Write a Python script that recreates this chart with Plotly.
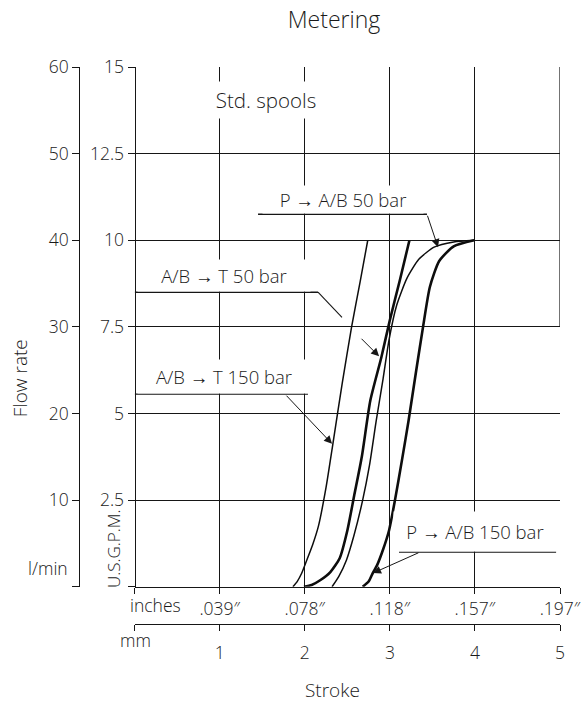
import plotly.graph_objects as go

# ---------------- data ----------------
stroke_ab_t_150 = [1.86, 1.91, 1.96, 2.02, 2.09, 2.16, 2.25, 2.33, 2.44, 2.55, 2.65, 2.74]
flow_ab_t_150 = [0, 0.6, 1.5, 3.0, 4.8, 7.0, 11.5, 16.5, 23.5, 30.0, 35.2, 40.0]

stroke_ab_t_50 = [1.99, 2.08, 2.18, 2.30, 2.41, 2.50, 2.58, 2.67, 2.77, 2.90, 3.00, 3.12, 3.23]
flow_ab_t_50 = [0, 0.2, 0.75, 1.7, 3.3, 6.5, 10.5, 15.0, 21.5, 26.5, 30.8, 35.5, 40.0]

stroke_p_ab_50 = [2.32, 2.40, 2.49, 2.58, 2.68, 2.76, 2.84, 2.92, 2.99, 3.08, 3.20, 3.34, 3.52, 3.75, 3.99]
flow_p_ab_50 = [0, 1.2, 3.1, 6.0, 10.0, 14.0, 19.2, 24.0, 28.5, 32.5, 35.6, 37.8, 39.2, 39.8, 40.0]

stroke_p_ab_150 = [2.68, 2.75, 2.80, 2.85, 2.92, 2.99, 3.06, 3.14, 3.22, 3.31, 3.39, 3.47, 3.58, 3.75, 3.99]
flow_p_ab_150 = [0, 0.6, 1.6, 2.5, 4.3, 6.5, 10.0, 14.5, 19.2, 25.0, 30.0, 34.6, 37.6, 39.3, 40.0]

mm_ticks = [0, 1, 2, 3, 4, 5]
mm_labels = ["", "1", "2", "3", "4", "5"]
inch_labels = ["", ".039″", ".078″", ".118″", ".157″", ".197″"]
lmin_ticks = [0, 10, 20, 30, 40, 50, 60]
lmin_labels = ["", "10", "20", "30", "40", "50", "60"]
gpm_labels = ["", "2.5", "5", "7.5", "10", "12.5", "15"]

# ---------------- layout helpers ----------------
W, H = 588, 706
ML, MR, MT, MB = 0, 28, 66.7, 0
PW = W - ML - MR
PH = H - MT - MB


def pxx(px):
    return (px - ML) / PW


def pxy(py):
    return (H - MB - py) / PH


X0 = pxx(134.7)
Y0 = pxy(586.7)

INK = "#161616"
FONT = "Open Sans"
TXT = "#1a1a1a"
TICKF = dict(family=FONT, size=17.5, color=TXT, weight=300)

fig = go.Figure()

curves = [
    (stroke_ab_t_150, flow_ab_t_150, 1.5, "A/B → T 150 bar"),
    (stroke_ab_t_50, flow_ab_t_50, 2.6, "A/B → T 50 bar"),
    (stroke_p_ab_50, flow_p_ab_50, 1.5, "P → A/B 50 bar"),
    (stroke_p_ab_150, flow_p_ab_150, 2.6, "P → A/B 150 bar"),
]
for xs, ys, w, name in curves:
    fig.add_trace(go.Scatter(x=xs, y=ys, mode="lines", name=name,
                             line=dict(color="#0d0d0d", width=w, shape="spline", smoothing=0.6),
                             showlegend=False, hoverinfo="skip"))

axis_common = dict(range=[0, 5], zeroline=False, fixedrange=True)

fig.update_layout(
    width=W, height=H,
    margin=dict(l=ML, r=MR, t=MT, b=MB, autoexpand=False),
    paper_bgcolor="white", plot_bgcolor="white",
    font=dict(family=FONT, size=16, color=TXT, weight=300),
    title=dict(text="Metering", x=334 / W, xanchor="center", y=1 - 19.5 / H, yanchor="middle",
               font=dict(family=FONT, size=23, color=TXT, weight=300)),
    xaxis=dict(**axis_common, domain=[X0, 1], anchor="y",
               tickvals=mm_ticks, ticktext=inch_labels, ticks="outside", ticklen=6,
               tickcolor=INK, tickwidth=1.2, showline=True, linecolor=INK, linewidth=1.2,
               showgrid=False, tickfont=TICKF),
    xaxis3=dict(**axis_common, overlaying="x", anchor="y", domain=[X0, 1],
                tickvals=[1, 2, 3, 4], showgrid=True, gridcolor=INK, gridwidth=1.2,
                showticklabels=False, ticks="", showline=False),
    xaxis2=dict(**axis_common, overlaying="x", anchor="free", position=pxy(624.3), domain=[X0, 1],
                side="bottom", tickvals=mm_ticks, ticktext=mm_labels, ticks="outside", ticklen=6,
                tickcolor=INK, tickwidth=1.2, showline=True, linecolor=INK, linewidth=1.2,
                showgrid=False, ticklabelstandoff=7, tickfont=TICKF),
    yaxis=dict(range=[0, 60], domain=[Y0, 1], anchor="free", position=X0, zeroline=False,
               fixedrange=True, tickvals=lmin_ticks, ticktext=gpm_labels, ticks="outside",
               ticklen=7, tickcolor=INK, tickwidth=1.2, showline=True, linecolor=INK,
               linewidth=1.2, showgrid=True, gridcolor=INK, gridwidth=1.2,
               tickfont=TICKF),
    yaxis2=dict(range=[0, 60], overlaying="y", anchor="free", position=pxx(79.3), side="left",
                zeroline=False, fixedrange=True, tickvals=lmin_ticks, ticktext=lmin_labels,
                ticks="outside", ticklen=7, tickcolor=INK, tickwidth=1.2, showline=True,
                linecolor=INK, linewidth=1.2, showgrid=False, tickfont=TICKF),
)

# invisible helper traces so the overlay axes are drawn
fig.add_trace(go.Scatter(x=[0], y=[0], xaxis="x2", yaxis="y2", mode="markers",
                         marker=dict(opacity=0), showlegend=False, hoverinfo="skip"))
fig.add_trace(go.Scatter(x=[0], y=[0], xaxis="x3", yaxis="y", mode="markers",
                         marker=dict(opacity=0), showlegend=False, hoverinfo="skip"))

# right frame segment (upper part only, as in the reference)
fig.add_shape(type="line", xref="x", yref="y", x0=5, x1=5, y0=30, y1=60,
              line=dict(color=INK, width=1.2), layer="above")

# label underlines
underlines = [
    (1.450, 3.436, 43.0),
    (0.0, 2.155, 34.0),
    (0.0, 2.037, 22.23),
    (3.107, 4.954, 4.0),
]
for xa, xb, yy in underlines:
    fig.add_shape(type="line", xref="x", yref="y", x0=xa, x1=xb, y0=yy, y1=yy,
                  line=dict(color=INK, width=1.3), layer="above")
# leader without arrowhead (first part of the A/B -> T 50 bar leader)
fig.add_shape(type="line", xref="x", yref="y", x0=2.155, x1=2.437, y0=34.0, y1=31.1,
              line=dict(color=INK, width=1.1), layer="above")

LBL = dict(family=FONT, size=18.5, color=TXT, weight=300)
# label boxes (white background hides grid lines as in the reference)
boxes = [
    ("Std. spools", 1.544, 56.16, 118, 36, 20.5),
    ("P → A/B 50 bar", 2.443, 44.73, 160, 27, 18.5),
    ("A/B → T 50 bar", 1.050, 35.96, 172, 31, 18.5),
    ("A/B → T 150 bar", 1.050, 24.31, 172, 33, 18.5),
    ("P → A/B 150 bar", 4.0, 6.43, 162, 39, 18.5),
]
for txt, bx, by, bw, bh, fs in boxes:
    fig.add_annotation(text=txt, x=bx, y=by, xref="x", yref="y", showarrow=False,
                       bgcolor="white", width=bw, height=bh, borderpad=0,
                       xanchor="center", yanchor="middle", align="center", valign="middle",
                       font=dict(LBL, size=fs))

# leader arrows (tip on curve, tail at underline)
arrows = [
    (3.566, 39.2, 3.436, 43.0),
    (2.873, 26.6, 2.649, 28.8),
    (2.320, 16.5, 1.768, 22.23),
    (2.802, 1.58, 3.354, 4.0),
]
for tx, ty, sx, sy in arrows:
    fig.add_annotation(text="", x=tx, y=ty, ax=sx, ay=sy, xref="x", yref="y",
                       axref="x", ayref="y", showarrow=True, arrowhead=2, arrowsize=1.6,
                       arrowwidth=1.0, arrowcolor=INK, standoff=0, startstandoff=0)

# axis titles and units
paper_texts = [
    ("Flow rate", 20, 378, -90, 19),
    ("U.S.G.P.M.", 113, 549, -90, 17),
    ("l/min", 47.5, 568, 0, 17.5),
    ("inches", 155, 605, 0, 17.5),
    ("mm", 135, 640, 0, 17.5),
    ("Stroke", 332, 690, 0, 19),
]
for txt, px, py, ang, fs in paper_texts:
    fig.add_annotation(text=txt, x=pxx(px), y=pxy(py), xref="paper", yref="paper",
                       showarrow=False, textangle=ang, xanchor="center", yanchor="middle",
                       font=dict(family=FONT, size=fs, color=TXT, weight=300))

fig.write_html("out.html", config={"displayModeBar": False},
               post_script="document.body.style.margin='0px';document.body.style.overflow='hidden';")
